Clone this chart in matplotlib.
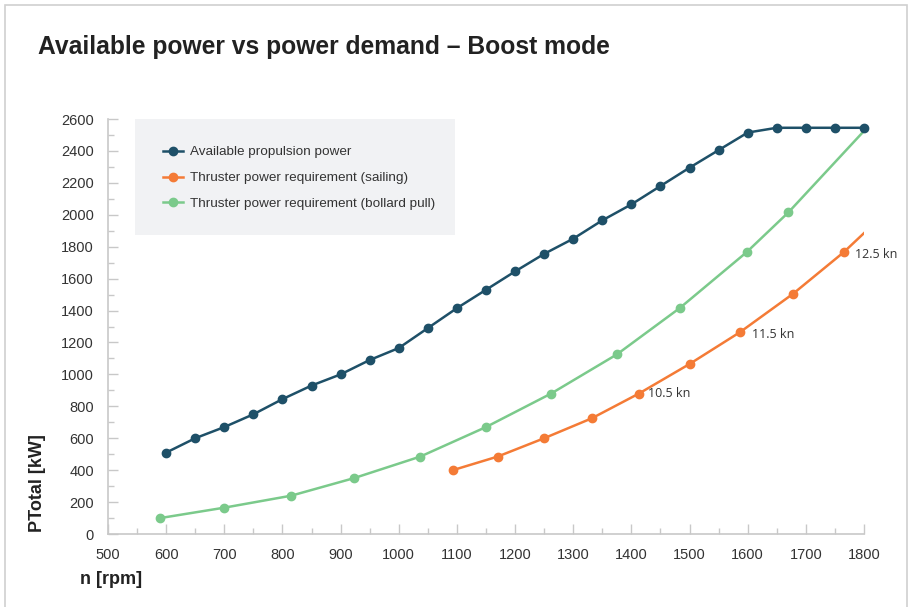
import numpy as np
import matplotlib
matplotlib.use('Agg')
import matplotlib.pyplot as plt
from matplotlib.patches import Rectangle
from matplotlib.ticker import MultipleLocator

# Data
rpm_avail = [600, 650, 700, 750, 800, 850, 900, 950, 1000, 1050, 1100, 1150, 1200,
             1250, 1300, 1350, 1400, 1450, 1500, 1550, 1600, 1650, 1700, 1750, 1800]
p_avail = [510, 600, 670, 750, 845, 930, 1000, 1090, 1165, 1290, 1415, 1530, 1645,
           1755, 1850, 1965, 2065, 2180, 2295, 2405, 2515, 2545, 2545, 2545, 2545]

rpm_sail = [1093, 1170, 1250, 1332, 1413, 1500, 1587, 1678, 1765, 1800]
p_sail = [400, 485, 600, 725, 880, 1065, 1265, 1505, 1765, 1885]

rpm_bollard = [590, 700, 815, 923, 1037, 1150, 1262, 1375, 1483, 1598, 1670, 1800]
p_bollard = [100, 165, 240, 350, 485, 670, 880, 1125, 1415, 1765, 2015, 2525]

speed_labels = ['10.5 kn', '11.5 kn', '12.5 kn']
speed_pos = [(1428, 880), (1607, 1253), (1785, 1750)]

c_blue = '#1e5068'
c_orange = '#f47b36'
c_green = '#7bca8b'
grey = '#c8c8c8'

plt.rcParams['font.family'] = ['Liberation Sans', 'DejaVu Sans']

fig = plt.figure(figsize=(9.12, 6.07), dpi=100)
fig.patches.append(Rectangle((5/912, -0.1), 902/912, 1.1 - 5/607, transform=fig.transFigure,
                             fill=False, edgecolor='#d0d0d0', linewidth=1.2))
ax = fig.add_axes([108/912, 73/607, 756/912, 415/607])

ax.plot(rpm_avail, p_avail, color=c_blue, lw=1.8, marker='o', ms=6, zorder=4, clip_on=False,
        label='Available propulsion power')
ax.plot(rpm_sail, p_sail, color=c_orange, lw=1.8, marker='o', ms=6,
        markevery=list(range(len(rpm_sail) - 1)), zorder=3,
        label='Thruster power requirement (sailing)')
ax.plot(rpm_bollard, p_bollard, color=c_green, lw=1.8, marker='o', ms=6,
        markevery=list(range(len(rpm_bollard) - 1)), zorder=3,
        label='Thruster power requirement (bollard pull)')

for lab, (x, y) in zip(speed_labels, speed_pos):
    ax.text(x, y, lab, fontsize=9, color='#333333', va='center', ha='left',
            family=['Open Sans', 'DejaVu Sans'])

ax.set_xlim(500, 1800)
ax.set_ylim(0, 2600)
ax.xaxis.set_major_locator(MultipleLocator(100))
ax.xaxis.set_minor_locator(MultipleLocator(50))
ax.yaxis.set_major_locator(MultipleLocator(200))
ax.yaxis.set_minor_locator(MultipleLocator(100))
ax.tick_params(which='both', direction='in', color=grey, labelcolor='#333333',
               labelsize=10.5)
ax.tick_params(which='major', length=7, width=1)
ax.tick_params(which='minor', length=4, width=1)
ax.tick_params(axis='x', pad=10)
ax.tick_params(axis='y', pad=10)
for s in ['top', 'right']:
    ax.spines[s].set_visible(False)
for s in ['left', 'bottom']:
    ax.spines[s].set_color(grey)
    ax.spines[s].set_linewidth(1.2)

# legend box
ax.add_patch(Rectangle((546, 1873), 551, 727, facecolor='#f1f2f4', edgecolor='none', zorder=1))
leg = ax.legend(loc='upper left', bbox_to_anchor=(0.066, 0.948), frameon=False, fontsize=9.7,
                handlelength=1.5, handletextpad=0.5, labelspacing=1.0, borderaxespad=0)
for t in leg.get_texts():
    t.set_color('#333333')

fig.text(38/912, 1 - 47/607, 'Available power vs power demand \u2013 Boost mode', fontsize=17.7,
         fontweight='bold', color='#222222', va='center', ha='left')
fig.text(37/912, 1 - 483/607, 'PTotal [kW]', rotation=90, fontsize=13, fontweight='bold',
         color='#222222', va='center', ha='center')
fig.text(80/912, 1 - 580/607, 'n [rpm]', fontsize=13, fontweight='bold',
         color='#222222', va='center', ha='left')

fig.savefig('out.png', dpi=100)
